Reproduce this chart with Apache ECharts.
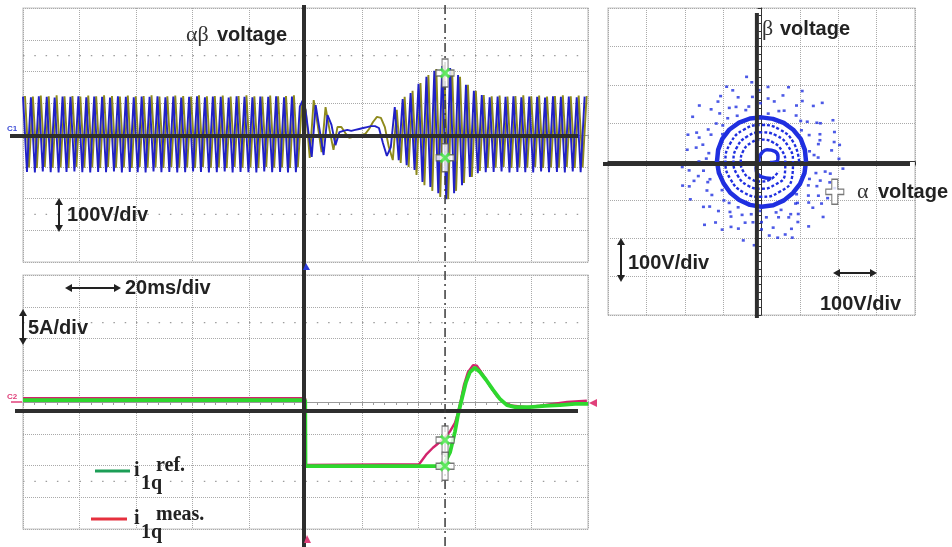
<!DOCTYPE html>
<html>
<head>
<meta charset="utf-8">
<script src="https://cdn.jsdelivr.net/npm/echarts@6/dist/echarts.min.js"></script>
<style>
  html, body { margin: 0; padding: 0; background: #ffffff; }
  #chart { width: 952px; height: 547px; }
</style>
</head>
<body>
<div id="chart"></div>
<script>
// ---- Time base: 20 ms/div, voltage traces sampled every 1.4 ms (one sample per half wave) ----
const SAMPLE_STEP_MS = 1.4;
const BETA_START_MS = -100;
const ALPHA_START_MS = -99.3;

// β voltage [V]
const betaVolts = [
  121,-116,119,-118,122,-115,120,-117,118,-118,
  121,-116,120,-115,122,-117,119,-118,121,-116,
  120,-117,118,-115,122,-118,120,-116,119,-117,
  121,-118,120,-115,122,-117,119,-116,121,-118,
  118,-117,120,-115,122,-116,119,-118,121,-117,
  120,-115,118,-118,122,-116,120,-117,119,-118,
  121,-115,120,-117,122,-116,119,-118,121,-117,
  90,116,25,-69,94,16,-63,63,32,-32,
  9,13,16,13,16,19,22,25,28,28,
  22,-25,-66,-38,88,-79,113,-95,132,-110,
  161,-148,183,-164,202,-183,217,-202,211,-183,
  189,-158,158,-132,139,-120,126,-117,119,-116,
  121,-115,120,-118,122,-116,119,-117,121,-118,
  120,-115,118,-117,122,-116,120,-118,121,-115,
  119,-117,121
];

// α voltage [V]
const alphaVolts = [
  123,-102,121,-104,124,-101,122,-103,125,-102,
  122,-104,123,-101,121,-103,124,-102,122,-104,
  125,-101,123,-103,121,-102,124,-104,122,-101,
  123,-103,125,-102,121,-104,122,-101,124,-103,
  123,-102,121,-104,125,-101,122,-103,123,-102,
  124,-104,121,-101,123,-103,125,-102,122,-104,
  121,-101,124,-103,122,-102,123,-104,125,-101,
  100,79,-72,110,32,-54,88,16,-47,25,
  25,6,-9,-6,-3,0,3,19,41,57,
  54,25,-38,-79,79,-88,120,-101,139,-126,
  164,-158,189,-176,208,-195,221,-202,205,-176,
  183,-151,158,-132,139,-113,126,-104,122,-103,
  124,-101,121,-104,123,-102,125,-103,122,-101,
  124,-104,121,-102,123,-103,125,-101,122,-104,
  124,-102,123
];

// q-axis current, reference and measured [ms, A]
const refTimeMs = [-100,-0.1,0,48.7,49.4,51.2,52.9,54.0,55.4,56.8,58.2,60.0,61.8,63.9,66.4,68.8,71.3,74.2,79.5,84.8,90.1,95.4,100];
const refAmps   = [0.3,0.3,-10.1,-10.1,-10.1,-7.9,-4.7,-2.0,0.6,3.1,4.7,5.4,4.7,3.5,1.9,0.5,-0.5,-0.8,-0.8,-0.6,-0.5,-0.3,-0.3];
const measTimeMs = [-100,-0.1,0,40.2,42.7,45.1,47.6,49.4,51.2,52.9,54.0,55.0,56.1,57.5,59.3,60.7,62.8,65.3,67.8,70.6,73.5,78.4,83.0,87.6,92.6,99.6];
const measAmps   = [0.6,0.6,-9.9,-9.8,-8.3,-7.2,-6.3,-5.5,-4.6,-3.3,-1.7,0.3,2.7,4.7,5.8,5.7,4.3,2.5,0.9,-0.2,-0.6,-0.8,-0.6,-0.3,0,0.2];

// Cursor readings
const cursorTimeMs = 49.4;
const voltCursorValues = [195, -72];
const currCursorValues = [-6.0, -10.1];
const xyCursor = [191, -79];

// α-β plane: steady-state ring radius [V] every 15°
const ringAngleDeg = [0,15,30,45,60,75,90,105,120,135,150,165,180,195,210,225,240,255,270,285,300,315,330,345];
const steadyRingV = [116,117,118,117,116,115,115,116,117,118,118,117,116,115,114,115,116,117,118,118,117,116,116,116];
// decaying spiral, radius [V] every 30° over three turns
const SPIRAL_STEP_DEG = 30;
const spiralV = [98,97,96,95,95,94,94,93,93,92,92,91,
                 82,80,78,76,75,74,73,72,72,71,70,70,
                 62,60,58,57,56,55,54,54,53,52,52,51];
// small loop around the origin [V, deg]
const centreLoop = [[51,300],[40,270],[22,230],[8,200],[12,120],[23,87],[34,65],[44,37],[45,17],[40,0],[22,353]];
// fast transient points [V, deg]
const transientDots = [
  [148,4],[155,17],[142,29],[158,41],[150,53],[145,66],[160,78],[152,91],[147,103],[157,115],
  [143,128],[154,140],[149,152],[159,164],[144,177],[153,189],[150,201],[156,214],[141,226],[155,238],
  [148,250],[160,262],[146,275],[152,287],[157,299],[143,311],[151,324],[158,336],[145,348],
  [185,9],[205,22],[176,35],[198,47],[212,60],[181,72],[195,85],[208,97],[178,110],[201,122],
  [189,134],[214,147],[174,159],[196,171],[207,184],[183,196],[210,208],[179,221],[199,233],[188,245],
  [211,257],[177,270],[203,282],[192,294],[209,306],[180,318],[197,331],[186,343],[213,355],
  [128,12],[168,25],[132,38],[172,58],[126,82],[170,98],[135,118],[166,131],[124,145],[174,168],
  [131,183],[169,193],[127,216],[171,229],[134,243],[165,255],[129,268],[175,280],[136,292],[167,305],
  [125,317],[173,329],[133,340],[168,351],
  [220,44],[218,138],[222,228],[216,318],[224,100],[219,265],
  [138,7],[162,20],[183,33],[147,46],[190,56],[139,71],[165,84],[186,92],[140,107],[163,121],
  [193,126],[138,137],[162,149],[185,156],[139,171],[163,180],[190,187],[142,199],[161,208],[192,218],
  [137,232],[164,241],[185,251],[140,259],[158,270],[194,276],[138,286],[162,296],[184,301],[141,309],
  [163,319],[191,325],[137,333],[161,342],[182,350],[140,357],
  [202,2],[196,15],[215,30],[206,70],[200,112],[215,115],[204,160],[199,199],[215,197],[205,240],
  [200,288],[214,292],[203,340],[208,12]
];

// ---- styling ----
const BLUE = '#2020c8';
const OLIVE = '#8e8a1c';
const XY_BLUE = '#1f2fe0';
const GREEN = '#2ed82e';
const MAGENTA = '#d2246c';
const GRID_LINE = { type: 'dotted', color: '#a9a9a9', width: 1 };
const FRAME = '#c6c6c6';

const crossPath = 'path://M6,0 L12,0 L12,11 L18,11 L18,17 L12,17 L12,28 L6,28 L6,17 L0,17 L0,11 L6,11 Z';
const xPath = 'path://M0,2 L2,0 L5,3 L8,0 L10,2 L7,5 L10,8 L8,10 L5,7 L2,10 L0,8 L3,5 Z';

function scopeAxis(gridIndex, min, max, interval, tickColor) {
  return {
    gridIndex, type: 'value', min, max, interval,
    axisLabel: { show: false },
    axisLine: { show: true, onZero: true, lineStyle: { color: tickColor, width: 1 } },
    axisTick: { show: true, length: 4, lineStyle: { color: tickColor } },
    minorTick: { show: true, splitNumber: 5, length: 3, lineStyle: { color: tickColor } },
    splitLine: { show: true, lineStyle: GRID_LINE },
    minorSplitLine: { show: false }
  };
}

const option = {
  animation: false,
  backgroundColor: '#ffffff',
  grid: [
    { left: 23, top: 8, width: 565, height: 254, show: true, borderColor: FRAME, borderWidth: 1.2 },
    { left: 23, top: 275, width: 565, height: 254, show: true, borderColor: FRAME, borderWidth: 1.2 },
    { left: 608, top: 8, width: 307, height: 307, show: true, borderColor: FRAME, borderWidth: 1.2 }
  ],
  xAxis: [
    scopeAxis(0, -100, 100, 20, '#9a9a9a'),
    scopeAxis(1, -100, 100, 20, '#9a9a9a'),
    scopeAxis(2, -400, 400, 100, '#333333')
  ],
  yAxis: [
    scopeAxis(0, -400, 400, 100, '#9a9a9a'),
    scopeAxis(1, -20, 20, 5, '#9a9a9a'),
    scopeAxis(2, -400, 400, 100, '#333333')
  ],
  polar: { center: [761.5, 161.5], radius: 153.5 },
  angleAxis: { type: 'value', min: 0, max: 360, startAngle: 0, clockwise: false, show: false },
  radiusAxis: { type: 'value', min: 0, max: 400, show: false },
  series: [
    {
      name: 'alpha', type: 'line', xAxisIndex: 0, yAxisIndex: 0, symbol: 'none', z: 3,
      lineStyle: { color: OLIVE, width: 1.9 },
      data: alphaVolts.map((v, k) => [ALPHA_START_MS + k * SAMPLE_STEP_MS, v])
    },
    {
      name: 'beta', type: 'line', xAxisIndex: 0, yAxisIndex: 0, symbol: 'none', z: 4,
      lineStyle: { color: BLUE, width: 1.9 },
      data: betaVolts.map((v, k) => [BETA_START_MS + k * SAMPLE_STEP_MS, v])
    },
    {
      name: 'i1q meas', type: 'line', xAxisIndex: 1, yAxisIndex: 1, symbol: 'none', z: 3,
      lineStyle: { color: MAGENTA, width: 2.4 },
      data: measTimeMs.map((t, k) => [t, measAmps[k]])
    },
    {
      name: 'i1q ref', type: 'line', xAxisIndex: 1, yAxisIndex: 1, symbol: 'none', z: 4,
      lineStyle: { color: GREEN, width: 3.8 },
      data: refTimeMs.map((t, k) => [t, refAmps[k]])
    },
    {
      name: 'steady ring', type: 'line', coordinateSystem: 'polar', symbol: 'none', z: 3,
      lineStyle: { color: XY_BLUE, width: 4.5 },
      data: ringAngleDeg.map((a, k) => [steadyRingV[k], a]).concat([[steadyRingV[0], 360]])
    },
    {
      name: 'spiral', type: 'line', coordinateSystem: 'polar', symbol: 'none', z: 3, smooth: true,
      lineStyle: { color: XY_BLUE, width: 2.4, type: [3, 2] },
      data: spiralV.map((r, k) => [r, (k * SPIRAL_STEP_DEG) % 360])
    },
    {
      name: 'centre loop', type: 'line', coordinateSystem: 'polar', symbol: 'none', z: 3, smooth: true,
      lineStyle: { color: XY_BLUE, width: 3.5 },
      data: centreLoop
    },
    {
      name: 'transient', type: 'scatter', coordinateSystem: 'polar', z: 3,
      symbol: 'rect', symbolSize: [3, 2.6], itemStyle: { color: XY_BLUE },
      data: transientDots
    },
    {
      name: 'voltage cursor', type: 'scatter', xAxisIndex: 0, yAxisIndex: 0, z: 20,
      symbol: crossPath, symbolSize: [18, 28],
      itemStyle: { color: '#ffffff', borderColor: '#555555', borderWidth: 1.2 },
      data: voltCursorValues.map(v => [cursorTimeMs, v])
    },
    {
      name: 'voltage cursor mark', type: 'scatter', xAxisIndex: 0, yAxisIndex: 0, z: 21,
      symbol: xPath, symbolSize: 11, itemStyle: { color: '#3ee63e' },
      data: voltCursorValues.map(v => [cursorTimeMs, v])
    },
    {
      name: 'current cursor', type: 'scatter', xAxisIndex: 1, yAxisIndex: 1, z: 20,
      symbol: crossPath, symbolSize: [18, 28],
      itemStyle: { color: '#ffffff', borderColor: '#555555', borderWidth: 1.2 },
      data: currCursorValues.map(v => [cursorTimeMs, v])
    },
    {
      name: 'current cursor mark', type: 'scatter', xAxisIndex: 1, yAxisIndex: 1, z: 21,
      symbol: xPath, symbolSize: 11, itemStyle: { color: '#3ee63e' },
      data: currCursorValues.map(v => [cursorTimeMs, v])
    },
    {
      name: 'xy cursor', type: 'scatter', xAxisIndex: 2, yAxisIndex: 2, z: 20,
      symbol: crossPath, symbolSize: [18, 25],
      itemStyle: { color: '#ffffff', borderColor: '#555555', borderWidth: 1.2 },
      data: [xyCursor]
    }
  ]
};

const chart = echarts.init(document.getElementById('chart'));
chart.setOption(option);

// ---- overlay: heavy axes, cursor line, scale annotations ----
const px = (g, p) => chart.convertToPixel({ gridIndex: g }, p);
const INK = '#222222';
const SANS = 'bold 20px "Liberation Sans", Arial, sans-serif';
const SERIF = '22px "Liberation Serif", "Times New Roman", serif';
const SERIF_B = 'bold 20px "Liberation Serif", "Times New Roman", serif';

function hLine(x1, x2, y, w, color, dash) {
  return { type: 'line', z: 15, shape: { x1, y1: y, x2, y2: y }, style: { stroke: color, lineWidth: w, lineDash: dash || null } };
}
function vLine(x, y1, y2, w, color, dash) {
  return { type: 'line', z: 15, shape: { x1: x, y1, x2: x, y2 }, style: { stroke: color, lineWidth: w, lineDash: dash || null } };
}
function arrow(x1, y1, x2, y2) {
  const dx = x2 - x1, dy = y2 - y1, len = Math.hypot(dx, dy), ux = dx / len, uy = dy / len;
  const hl = 7, hw = 4;
  const head = (hx, hy, sx, sy) => ({
    type: 'polygon', z: 30,
    shape: { points: [[hx, hy], [hx - sx * hl - sy * hw, hy - sy * hl + sx * hw], [hx - sx * hl + sy * hw, hy - sy * hl - sx * hw]] },
    style: { fill: INK }
  });
  return [
    { type: 'line', z: 30, shape: { x1: x1 + ux * 4, y1: y1 + uy * 4, x2: x2 - ux * 4, y2: y2 - uy * 4 }, style: { stroke: INK, lineWidth: 2 } },
    head(x2, y2, ux, uy), head(x1, y1, -ux, -uy)
  ];
}
function label(x, y, text, font, fill) {
  return { type: 'text', z: 30, x, y, style: { text, font, fill: fill || INK, align: 'left', verticalAlign: 'middle' } };
}
function tri(points, fill) {
  return { type: 'polygon', z: 25, shape: { points }, style: { fill } };
}

const t0 = px(0, [0, 0])[0];
const vZero = px(0, [0, 0])[1];
const iZero = px(1, [0, -1.4])[1];
const cursorX = px(0, [cursorTimeMs, 0])[0];
const xyH = px(2, [0, -6.5])[1];
const xyV = px(2, [-12, 0])[0];

const graphics = [
  // sparse dotted rows of the scope reticle
  hLine(23, 588, px(0, [0, 250])[1], 1.2, '#9c9c9c', [1.5, 9.8]),
  hLine(23, 588, px(0, [0, -250])[1], 1.2, '#9c9c9c', [1.5, 9.8]),
  hLine(23, 588, px(1, [0, 12.5])[1], 1.2, '#9c9c9c', [1.5, 9.8]),
  hLine(23, 588, px(1, [0, -12.5])[1], 1.2, '#9c9c9c', [1.5, 9.8]),
  // heavy axes
  vLine(t0 - 1.5, 5, 547, 4, '#2e2e2e'),
  hLine(10, 578, vZero + 1, 4, '#2e2e2e'),
  hLine(15, 578, iZero, 4, '#2e2e2e'),
  hLine(603, 910, xyH, 4, '#2e2e2e'),
  vLine(xyV, 13, 318, 4, '#2e2e2e'),
  // cursor
  vLine(cursorX, 5, 547, 1.5, '#3a3a3a', [9, 4, 2, 4]),
  // titles
  label(186, 35, 'αβ', SERIF, '#333'),
  label(217, 35, 'voltage', SANS),
  label(762, 29, 'β', SERIF, '#333'),
  label(780, 29, 'voltage', SANS),
  label(857, 192, 'α', SERIF, '#333'),
  label(878, 192, 'voltage', SANS),
  // scale annotations
  label(67, 215, '100V/div', SANS),
  label(125, 288, '20ms/div', SANS),
  label(28, 328, '5A/div', SANS),
  label(628, 263, '100V/div', SANS),
  label(820, 304, '100V/div', SANS),
  // legend
  { type: 'line', z: 30, shape: { x1: 95, y1: 471, x2: 130, y2: 471 }, style: { stroke: '#1c9e57', lineWidth: 3 } },
  label(134, 471, 'i', SERIF_B),
  label(141, 484, '1q', SERIF_B),
  label(156, 466, 'ref.', SERIF_B),
  { type: 'line', z: 30, shape: { x1: 91, y1: 519, x2: 127, y2: 519 }, style: { stroke: '#e6303e', lineWidth: 3 } },
  label(134, 519, 'i', SERIF_B),
  label(141, 533, '1q', SERIF_B),
  label(156, 515, 'meas.', SERIF_B),
  // channel markers
  label(7, 129, 'C1', 'bold 8px "Liberation Sans", sans-serif', '#3b4bd6'),
  label(7, 397, 'C2', 'bold 8px "Liberation Sans", sans-serif', '#e0407a'),
  hLine(11, 22, 402, 1.5, '#e0407a'),
  tri([[303, 270], [306, 263], [310, 270]], '#2a3ad8'),
  tri([[304, 543], [307, 535], [311, 543]], '#e0407a'),
  tri([[589, 403], [597, 399], [597, 407]], '#e0407a')
]
  .concat(arrow(59, 198, 59, 232))
  .concat(arrow(65, 288, 121, 288))
  .concat(arrow(23, 309, 23, 345))
  .concat(arrow(621, 238, 621, 282))
  .concat(arrow(833, 273, 877, 273));

chart.setOption({ graphic: graphics });
</script>
</body>
</html>
